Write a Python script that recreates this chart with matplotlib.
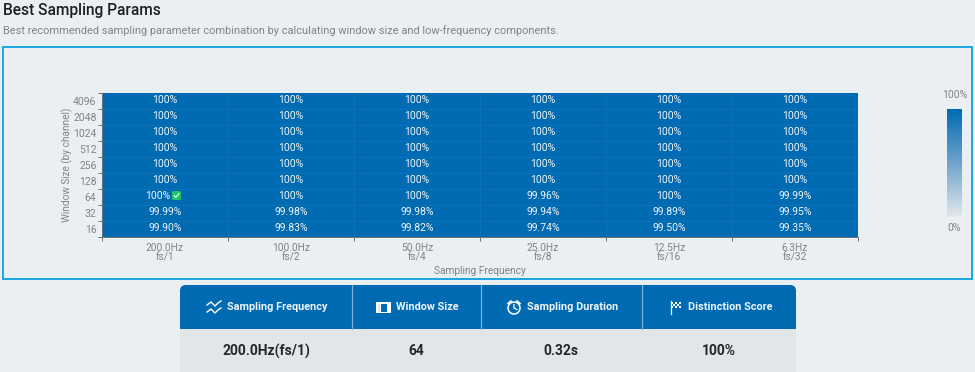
import matplotlib
matplotlib.use("Agg")
import numpy as np
import matplotlib.pyplot as plt
from matplotlib.colors import LinearSegmentedColormap
from matplotlib.patches import Rectangle, FancyBboxPatch, Circle

plt.rcParams['font.family'] = ['Roboto', 'DejaVu Sans']

window_sizes = ['16', '32', '64', '128', '256', '512', '1024', '2048', '4096']
frequencies = ['200.0Hz\nfs/1', '100.0Hz\nfs/2', '50.0Hz\nfs/4', '25.0Hz\nfs/8', '12.5Hz\nfs/16', '6.3Hz\nfs/32']
row_16 = [99.90, 99.83, 99.82, 99.74, 99.50, 99.35]
row_32 = [99.99, 99.98, 99.98, 99.94, 99.89, 99.95]
row_64 = [100, 100, 100, 99.96, 100, 99.99]
row_128 = [100, 100, 100, 100, 100, 100]
row_256 = [100, 100, 100, 100, 100, 100]
row_512 = [100, 100, 100, 100, 100, 100]
row_1024 = [100, 100, 100, 100, 100, 100]
row_2048 = [100, 100, 100, 100, 100, 100]
row_4096 = [100, 100, 100, 100, 100, 100]
table_heads = ['Sampling Frequency', 'Window Size', 'Sampling Duration', 'Distinction Score']
table_values = ['200.0Hz(fs/1)', '64', '0.32s', '100%']

BG = '#eaeff3'
BLUE = '#006bb3'
GREY = '#7f8489'
W, H = 975, 372

scores = np.array([row_16, row_32, row_64, row_128, row_256, row_512, row_1024, row_2048, row_4096])
cmap = LinearSegmentedColormap.from_list('score', ['#e0e6eb', '#6fa3cb', BLUE])

fig = plt.figure(figsize=(W/100, H/100), dpi=100, facecolor=BG)

# page overlay in pixel coords, y going down
page = fig.add_axes([0, 0, 1, 1], zorder=3)
page.set_xlim(0, W)
page.set_ylim(H, 0)
page.axis('off')
page.patch.set_visible(False)

page.text(3, 11, 'Best Sampling Params', fontsize=11.2, fontweight='medium', color='#1c1f23', va='center')
page.text(3, 31, 'Best recommended sampling parameter combination by calculating window size and low-frequency components.',
          fontsize=7.9, color=GREY, va='center')
page.add_patch(Rectangle((3, 46.5), 969, 232, fill=False, ec='#1ba4e2', lw=1.4))


def px_axes(x0, y0, x1, y1):
    return fig.add_axes([x0/W, 1-y1/H, (x1-x0)/W, (y1-y0)/H])


# heatmap
ax = px_axes(102, 93, 858, 237)
ax.pcolormesh(scores, cmap=cmap, vmin=0, vmax=100)
ax.hlines(np.arange(1, 9), 0, 6, color='#1676b8', lw=0.4)
ax.vlines(np.arange(1, 6), 0, 9, color='#1676b8', lw=0.4)
for r, row in enumerate(scores):
    for c, val in enumerate(row):
        label = '100%' if val == 100 else f'{val:.2f}%'
        offs = -7.5 if (r == 2 and c == 0) else 0
        ax.annotate(label, (c+0.5, r+0.5), xytext=(offs, 1), textcoords='offset pixels',
                    ha='center', va='center', fontsize=7.5, color='#f2f6fa')
ax.set_xticks(np.arange(7))
ax.set_xticklabels([])
ax.set_xticks(np.arange(6)+0.5, minor=True)
ax.set_xticklabels(frequencies, minor=True, fontsize=7.3, color=GREY, linespacing=0.95)
ax.set_yticks(np.arange(10))
ax.set_yticklabels([])
ax.set_yticks(np.arange(9)+0.5, minor=True)
ax.set_yticklabels(window_sizes, minor=True, fontsize=7.5, color=GREY)
ax.tick_params(axis='x', which='minor', length=0, pad=4)
ax.tick_params(axis='y', which='minor', length=0, pad=4)
ax.tick_params(axis='both', which='major', length=3, width=0.7, color='#6b7075')
for side in ['top', 'right']:
    ax.spines[side].set_visible(False)
for side in ['left', 'bottom']:
    ax.spines[side].set_color('#6b7075')
    ax.spines[side].set_linewidth(0.7)
ax.set_xlabel('Sampling Frequency', fontsize=7.3, color=GREY, labelpad=3)
ax.set_ylabel('Window Size (by channel)', fontsize=7.2, color=GREY, labelpad=0)

# best cell marker
page.add_patch(FancyBboxPatch((172, 191), 9, 9, boxstyle='round,pad=0,rounding_size=1.5', fc='#1cc463', ec='none'))
page.plot([174, 175.8, 179], [195.6, 197.4, 193.6], color='white', lw=0.8)

# colour scale
cb = px_axes(947, 109, 962, 216)
cb.imshow(np.linspace(100, 0, 200).reshape(-1, 1), cmap=cmap, vmin=0, vmax=100, aspect='auto')
cb.axis('off')
page.text(954.5, 95, '100%', fontsize=7.5, color=GREY, ha='center', va='center')
page.text(954.5, 228, '0%', fontsize=7.5, color=GREY, ha='center', va='center')

# summary table
edges = [180, 352, 481, 642, 796]
page.add_patch(FancyBboxPatch((180, 285), 616, 100, boxstyle='round,pad=0,rounding_size=6', fc='#e2e6e9', ec='none'))
page.add_patch(FancyBboxPatch((180, 285), 616, 44, boxstyle='round,pad=0,rounding_size=6', fc=BLUE, ec='none'))
page.add_patch(Rectangle((180, 315), 616, 14, fc=BLUE, ec='none'))
for e in edges[1:-1]:
    page.plot([e, e], [285, 329], color='#7fb0d6', lw=0.9)
text_x = [227, 396, 527, 688]
val_x = [266, 416.5, 561, 719]
for tx, vx, head, val in zip(text_x, val_x, table_heads, table_values):
    page.text(tx, 306.5, head, fontsize=7.8, fontweight='bold', color='#eef5fa', va='center')
    page.text(vx, 351, val, fontsize=10, fontweight='bold', color='#24272a', ha='center', va='center')

# header icons
for dy in [0, 7]:
    page.plot([207, 211, 215, 218, 221], [305+dy, 302+dy, 306+dy, 303+dy, 301+dy], color='white', lw=1)
page.add_patch(Rectangle((376, 302), 15, 11, fc='white', ec='none'))
page.add_patch(Rectangle((381, 303.5), 5.5, 8, fc=BLUE, ec='none'))
page.add_patch(Rectangle((377.5, 303.5), 2.5, 8, fc='#d8e6f1', ec='none'))
page.add_patch(Circle((514, 308), 6, fill=False, ec='white', lw=1.1))
page.plot([514, 514, 517], [304.5, 308, 309.5], color='white', lw=0.9)
page.plot([508, 511], [303.5, 301], color='white', lw=1.2)
page.plot([517, 520], [301, 303.5], color='white', lw=1.2)
page.plot([670.5, 670.5], [301, 313.5], color='white', lw=0.9)
for i in range(5):
    for j in range(3):
        if (i+j) % 2 == 0:
            page.add_patch(Rectangle((671+i*2, 301.5+j*2), 2, 2, fc='white', ec='none'))

fig.savefig('out.png', dpi=100, facecolor=BG)
